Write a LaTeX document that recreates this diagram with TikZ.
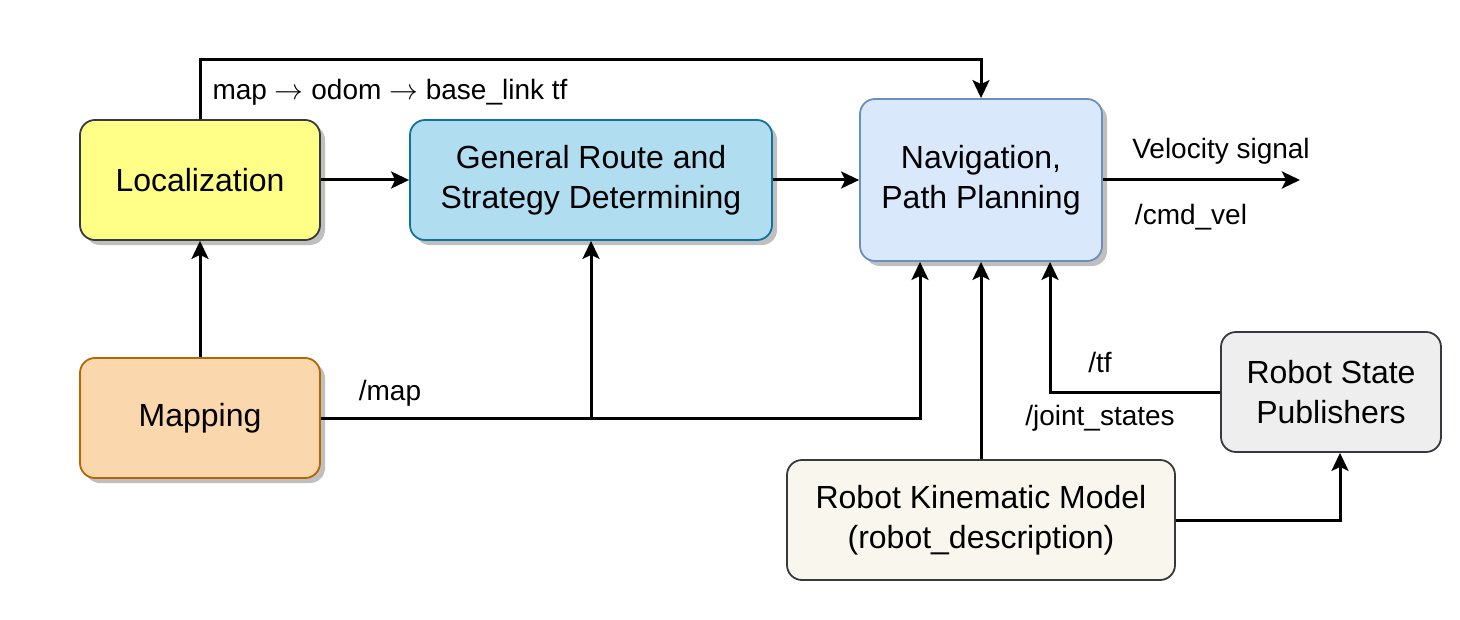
\documentclass[tikz,border=0pt]{standalone}
\usepackage{fontspec}
\setmainfont{Liberation Sans}
\usepackage{xcolor}
\usetikzlibrary{positioning,arrows.meta,shadows}
\definecolor{locfill}{HTML}{FFFF88}
\definecolor{routefill}{HTML}{B1DDF0}
\definecolor{routedraw}{HTML}{10739E}
\definecolor{navfill}{HTML}{DAE8FC}
\definecolor{navdraw}{HTML}{6C8EBF}
\definecolor{mapfill}{HTML}{FAD7AC}
\definecolor{mapdraw}{HTML}{B46504}
\definecolor{greyfill}{HTML}{EEEEEE}
\definecolor{kinfill}{HTML}{F9F7ED}
\definecolor{darkdraw}{HTML}{36393D}

\begin{document}
\begin{tikzpicture}[x=0.5pt,y=-0.5pt,
  blk/.style={draw=darkdraw,line width=0.9pt,rounded corners=7.5pt,align=center,inner sep=0pt,
    font=\fontsize{16}{20}\selectfont},
  shd/.style={drop shadow={shadow xshift=2.5pt,shadow yshift=-2.5pt,fill=black!25,opacity=1}},
  lbl/.style={inner sep=0pt,font=\fontsize{14}{16}\selectfont},
  arr/.style={-{Stealth[length=9pt,width=8.5pt,inset=2pt]},line width=1.5pt}]
  \useasboundingbox (0,0) rectangle (1460,620);
  \node[blk,shd,fill=locfill,minimum width=120pt,minimum height=60pt] (loc) at (200,180) {Localization};
  \node[blk,shd,fill=routefill,draw=routedraw,minimum width=181pt,minimum height=60pt] (route) at (591,180) {General Route and\\Strategy Determining};
  \node[blk,shd,fill=navfill,draw=navdraw,minimum width=121pt,minimum height=81pt] (nav) at (981,180) {Navigation,\\Path Planning};
  \node[blk,shd,fill=mapfill,draw=mapdraw,minimum width=120pt,minimum height=60pt] (map) at (200,418) {Mapping};
  \node[blk,fill=greyfill,minimum width=110pt,minimum height=60pt] (rsp) at (1331,392) {Robot State\\Publishers};
  \node[blk,fill=kinfill,minimum width=194pt,minimum height=60pt] (rkm) at (981,520) {Robot Kinematic Model\\(robot\_description)};
  \coordinate (vout) at (1300,180);
  \node[lbl] (tftree) at (390,92) {map $\rightarrow$ odom $\rightarrow$ base\_link tf};
  \node[lbl] (vel) at (1221,151) {Velocity signal};
  \node[lbl] (cmd) at (1191,217) {/cmd\_vel};
  \node[lbl] (maptopic) at (390,393) {/map};
  \node[lbl] (tftopic) at (1100,362) {/tf};
  \node[lbl] (joint) at (1100,418) {/joint\_states};
  \draw[arr] (loc.north) -- ++(0,-60) -| (nav.north);
  \draw[arr] (loc) -- (route);
  \draw[arr] (route) -- (nav.west |- route);
  \draw[arr] (nav.east |- vout) -- (vout);
  \draw[arr] (map) -- (loc);
  \draw[arr] (map.east) -| (route.south);
  \draw[arr] (map.east) -| ([xshift=-30.5pt]nav.south);
  \draw[arr] (rkm) -- (nav.south);
  \draw[arr] (rsp.west) -| ([xshift=34.5pt]nav.south);
  \draw[arr] (rkm.east) -| ([xshift=4.5pt]rsp.south);
\end{tikzpicture}
\end{document}
